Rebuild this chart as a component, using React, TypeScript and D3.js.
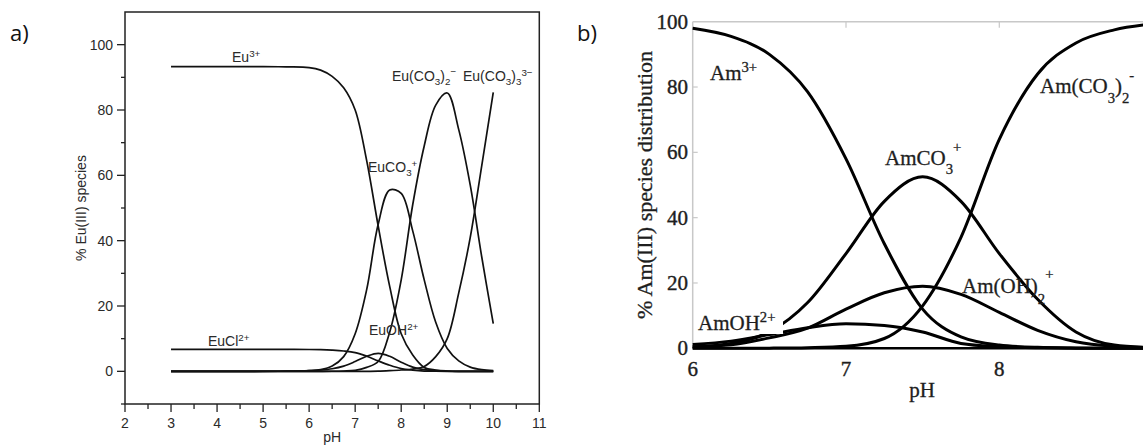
import React from 'react';
import * as d3 from 'd3';

// ---------- Panel a data (Eu(III) speciation) ----------
const phA = [3, 4, 5, 5.5, 6, 6.25, 6.5, 6.75, 7, 7.25, 7.5, 7.75, 8, 8.25, 8.5, 8.75, 9, 9.25, 9.5, 9.75, 10];
const eu3 = [93.3, 93.3, 93.3, 93.2, 93.0, 92.2, 90.3, 86.8, 80, 64.5, 44.5, 26, 11.5, 5, 1.2, 0.4, 0.1, 0, 0, 0, 0];
const euCl = [6.7, 6.7, 6.7, 6.7, 6.68, 6.62, 6.48, 6.23, 5.74, 4.63, 3.2, 1.87, 0.83, 0.36, 0.09, 0.03, 0, 0, 0, 0, 0];
const euOH = [0, 0, 0.02, 0.05, 0.2, 0.4, 0.8, 1.6, 3.0, 4.6, 5.5, 4.6, 2.8, 1.3, 0.5, 0.2, 0.05, 0, 0, 0, 0];
const euCO3 = [0, 0, 0, 0.05, 0.2, 0.5, 1.6, 4.5, 11.5, 25, 45, 55.5, 54.5, 43, 28, 15, 7, 3.2, 1.3, 0.5, 0.2];
const euCO3_2 = [0, 0, 0, 0, 0, 0, 0.02, 0.1, 0.3, 1.2, 3, 12, 28, 51, 69, 81.5, 85.2, 74, 57, 35, 14.6];
const euCO3_3 = [0, 0, 0, 0, 0, 0, 0, 0, 0, 0, 0.05, 0.2, 0.4, 0.7, 1.5, 4.5, 10, 24, 41, 63, 85.4];
const seriesA = [eu3, euCl, euOH, euCO3, euCO3_2, euCO3_3];
const aXTicks = [2, 3, 4, 5, 6, 7, 8, 9, 10, 11];
const aXMinor = [2.5, 3.5, 4.5, 5.5, 6.5, 7.5, 8.5, 9.5, 10.5];
const aYTicks = [0, 20, 40, 60, 80, 100];
const aYMinor = [-10, 10, 30, 50, 70, 90];

// ---------- Panel b data (Am(III) speciation) ----------
const phB = [6, 6.25, 6.5, 6.75, 7, 7.25, 7.5, 7.75, 8, 8.25, 8.5, 8.75, 9];
const am3 = [98, 95.5, 90, 78.5, 58, 32, 12, 3.5, 1, 0.3, 0.1, 0, 0];
const amCO3 = [0.4, 1.5, 5, 14, 29, 45, 52.5, 45, 29, 15, 5, 1, 0.2];
const amCO3_2 = [0, 0, 0.05, 0.2, 0.6, 3, 13, 34, 64, 84, 93.5, 97.5, 99.3];
const amOH2 = [0.5, 1.1, 3.2, 6.2, 12, 17, 19, 16.5, 11, 5.5, 2, 0.6, 0.15];
const amOH = [1.2, 2.2, 4.2, 6.3, 7.5, 7, 5, 1.5, 0.5, 0.15, 0.05, 0, 0];
const seriesB = [am3, amCO3, amCO3_2, amOH2, amOH];
const bXTicks = [6, 7, 8];
const bYTicks = [0, 20, 40, 60, 80, 100];

type Part = [string, number?];

function Label({ x, y, parts, size, font, fill, stroke }: { x: number; y: number; parts: Part[]; size: number; font: string; fill: string; stroke?: number }) {
  return (
    <text x={x} y={y} fontFamily={font} fontSize={size} fill={fill} stroke={stroke ? fill : 'none'} strokeWidth={stroke || 0}>
      {parts.map((p, i) => {
        const off = p[1] ?? 0;
        const small = off !== 0;
        return (
          <tspan key={i} y={y + off} fontSize={small ? size * 0.7 : size}>
            {p[0]}
          </tspan>
        );
      })}
    </text>
  );
}

export default function App() {
  const W = 1143, H = 446;
  const xa = d3.scaleLinear().domain([2, 11]).range([125, 539.3]);
  const ya = d3.scaleLinear().domain([-10, 110]).range([404, 12]);
  const xb = d3.scaleLinear().domain([6, 9]).range([692.7, 1152.6]);
  const yb = d3.scaleLinear().domain([0, 100]).range([348.3, 21.7]);

  const lineA = (vals: number[]) =>
    d3.line<number>().x((_, i) => xa(phA[i])).y((d) => ya(d)).curve(d3.curveCatmullRom.alpha(0.5))(vals) || '';
  const lineB = (vals: number[]) =>
    d3.line<number>().x((_, i) => xb(phB[i])).y((d) => yb(d)).curve(d3.curveMonotoneX)(vals) || '';

  const sansA = '"Liberation Sans", Arial, sans-serif';
  const serifB = '"Liberation Serif", "Times New Roman", serif';
  const colA = '#2a2a2a';
  const colB = '#1e1e1e';
  const [a0, a1] = xa.range();
  const [ab, at] = ya.range();
  const [b0] = xb.range();
  const [bb, bt] = yb.range();

  return (
    <svg width={W} height={H} style={{ position: 'absolute', left: 0, top: 0, background: '#fff' }}>
      {/* panel letters */}
      <text x={10} y={41} fontFamily='"Open Sans", sans-serif' fontSize={22} fill="#111">a)</text>
      <text x={577} y={41} fontFamily='"Open Sans", sans-serif' fontSize={22} fill="#111">b)</text>

      {/* ---------- Panel a ---------- */}
      <rect x={a0} y={at} width={a1 - a0} height={ab - at} fill="none" stroke="#222" strokeWidth={1.5} />
      {aYTicks.map((t) => (
        <g key={'ayt' + t}>
          <line x1={a0 - 8} x2={a0} y1={ya(t)} y2={ya(t)} stroke="#222" strokeWidth={1.3} />
          <text x={a0 - 12} y={ya(t) + 5} textAnchor="end" fontFamily={sansA} fontSize={14} fill={colA}>{t}</text>
        </g>
      ))}
      {aYMinor.map((t) => (
        <line key={'aym' + t} x1={a0 - 4} x2={a0} y1={ya(t)} y2={ya(t)} stroke="#222" strokeWidth={1.3} />
      ))}
      {aXTicks.map((t) => (
        <g key={'axt' + t}>
          <line x1={xa(t)} x2={xa(t)} y1={ab} y2={ab + 8} stroke="#222" strokeWidth={1.3} />
          <text x={xa(t)} y={428} textAnchor="middle" fontFamily={sansA} fontSize={14} fill={colA}>{t}</text>
        </g>
      ))}
      {aXMinor.map((t) => (
        <line key={'axm' + t} x1={xa(t)} x2={xa(t)} y1={ab} y2={ab + 5} stroke="#222" strokeWidth={1.3} />
      ))}
      <text x={(a0 + a1) / 2} y={442} textAnchor="middle" fontFamily={sansA} fontSize={14} fill={colA}>pH</text>
      <text transform={`translate(86,${(ab + at) / 2}) rotate(-90)`} textAnchor="middle" fontFamily={sansA} fontSize={14} fill={colA}>% Eu(III) species</text>
      {seriesA.map((s, i) => (
        <path key={'sa' + i} d={lineA(s)} fill="none" stroke="#111" strokeWidth={1.7} />
      ))}
      <Label x={232} y={62} size={14} font={sansA} fill={colA} parts={[['Eu'], ['3+', -5]]} />
      <Label x={208} y={346} size={14} font={sansA} fill={colA} parts={[['EuCl'], ['2+', -5]]} />
      <Label x={368} y={172} size={14} font={sansA} fill={colA} parts={[['EuCO'], ['3', 4], ['+', -5]]} />
      <Label x={369} y={335} size={14} font={sansA} fill={colA} parts={[['EuOH'], ['2+', -5]]} />
      <Label x={392} y={81} size={14} font={sansA} fill={colA} parts={[['Eu(CO'], ['3', 4], [')'], ['2', 4], ['\u2212', -6]]} />
      <Label x={463} y={81} size={14} font={sansA} fill={colA} parts={[['Eu(CO'], ['3', 4], [')'], ['3', 4], ['3\u2212', -5]]} />

      {/* ---------- Panel b ---------- */}
      <line x1={b0} x2={W} y1={bt} y2={bt} stroke="#c8c8c8" strokeWidth={1.5} />
      <line x1={b0} x2={b0} y1={bt} y2={bb} stroke="#c8c8c8" strokeWidth={1.5} />
      {bYTicks.map((t) => (
        <g key={'byt' + t}>
          {t > 0 && t < 100 && <line x1={b0} x2={b0 + 5} y1={yb(t)} y2={yb(t)} stroke="#c8c8c8" strokeWidth={1.2} />}
          <text x={688} y={yb(t) + 7} textAnchor="end" fontFamily={serifB} fontSize={21} fill={colB} stroke={colB} strokeWidth={0.4}>{t}</text>
        </g>
      ))}
      {bXTicks.map((t) => (
        <g key={'bxt' + t}>
          {t > 6 && <line x1={xb(t)} x2={xb(t)} y1={bt} y2={bt + 6} stroke="#c8c8c8" strokeWidth={1.2} />}
          <text x={xb(t)} y={376} textAnchor="middle" fontFamily={serifB} fontSize={21} fill={colB} stroke={colB} strokeWidth={0.4}>{t}</text>
        </g>
      ))}
      <text x={922} y={397} textAnchor="middle" fontFamily={serifB} fontSize={21} fill={colB} stroke={colB} strokeWidth={0.3}>pH</text>
      <text transform={`translate(652,${(bb + bt) / 2}) rotate(-90)`} textAnchor="middle" fontFamily={serifB} fontSize={22} fill={colB} stroke={colB} strokeWidth={0.3}>% Am(III) species distribution</text>
      <line x1={b0} x2={W} y1={bb} y2={bb} stroke="#000" strokeWidth={2.5} />
      {seriesB.map((s, i) => (
        <path key={'sb' + i} d={lineB(s)} fill="none" stroke="#000" strokeWidth={3} strokeLinejoin="round" />
      ))}
      <Label x={710} y={80} size={21} font={serifB} fill={colB} stroke={0.3} parts={[['Am'], ['3+', -8]]} />
      <Label x={885} y={165} size={21} font={serifB} fill={colB} stroke={0.3} parts={[['AmCO'], ['3', 9], ['+', -13]]} />
      <Label x={1040} y={93} size={21} font={serifB} fill={colB} stroke={0.3} parts={[['Am(CO'], ['3', 10], [')'], ['2', 10], ['-', -13]]} />
      <rect x={697} y={305} width={86} height={29} fill="#fff" />
      <Label x={698} y={330} size={21} font={serifB} fill={colB} stroke={0.3} parts={[['AmOH'], ['2+', -8]]} />
      <Label x={962} y={293} size={21} font={serifB} fill={colB} stroke={0.3} parts={[['Am(OH)'], ['2', 11], ['+', -14]]} />
    </svg>
  );
}
